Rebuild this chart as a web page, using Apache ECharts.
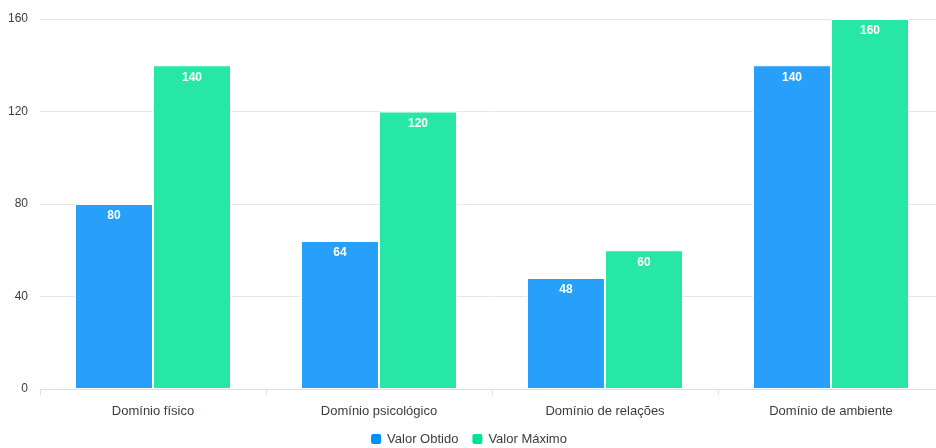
<!DOCTYPE html>
<html>
<head>
<meta charset="utf-8">
<script src="https://cdn.jsdelivr.net/npm/echarts@6/dist/echarts.min.js"></script>
<style>
  html, body { margin: 0; padding: 0; background: #fff; }
  #chart { width: 936px; height: 448px; }
</style>
</head>
<body>
<div id="chart"></div>
<script>
const categories = ['Domínio físico', 'Domínio psicológico', 'Domínio de relações', 'Domínio de ambiente'];
const valorObtido = [80, 64, 48, 140];
const valorMaximo = [140, 120, 60, 160];
const yTicks = { min: 0, max: 160, interval: 40 };

const chart = echarts.init(document.getElementById('chart'), null, { renderer: 'canvas' });

// rótulos brancos dentro do topo da barra
const barLabel = {
  show: true,
  position: 'insideTop',
  distance: 6,
  color: '#fff',
  fontWeight: 'bold',
  fontSize: 12,
  fontFamily: 'Liberation Sans, Arial, sans-serif'
};

const option = {
  animation: false,
  textStyle: { fontFamily: 'Liberation Sans, Arial, sans-serif' },
  // a área do gráfico passa da borda direita (como no original)
  grid: { left: 40, width: 904, top: 19, bottom: 59, outerBoundsMode: 'none', containLabel: false },
  legend: {
    bottom: -3,
    left: 'center',
    icon: 'roundRect',
    itemWidth: 12,
    itemHeight: 12,
    itemGap: 12,
    textStyle: { color: '#373d3f', fontSize: 13 },
    data: [
      { name: 'Valor Obtido', itemStyle: { color: '#008ffb' } },
      { name: 'Valor Máximo', itemStyle: { color: '#00e396' } }
    ]
  },
  xAxis: {
    type: 'category',
    data: categories,
    axisLine: { lineStyle: { color: '#e0e0e0' } },
    axisTick: { show: true, length: 6, lineStyle: { color: '#e0e0e0' } },
    axisLabel: { color: '#373d3f', fontSize: 13, margin: 16 }
  },
  yAxis: {
    type: 'value',
    min: yTicks.min,
    max: yTicks.max,
    interval: yTicks.interval,
    axisLine: { show: false },
    axisTick: { show: false },
    axisLabel: { color: '#373d3f', fontSize: 12, margin: 12, padding: [0, 0, 4, 0] },
    splitLine: { lineStyle: { color: '#e6e6e6' } }
  },
  series: [
    {
      name: 'Valor Obtido',
      type: 'bar',
      data: valorObtido,
      barWidth: 78,
      barGap: '0%',
      itemStyle: { color: '#26a0fb', borderColor: '#fff', borderWidth: 1 },
      label: barLabel
    },
    {
      name: 'Valor Máximo',
      type: 'bar',
      data: valorMaximo,
      barWidth: 78,
      itemStyle: { color: '#26e7a6', borderColor: '#fff', borderWidth: 1 },
      label: barLabel
    }
  ]
};

chart.setOption(option);
</script>
</body>
</html>
